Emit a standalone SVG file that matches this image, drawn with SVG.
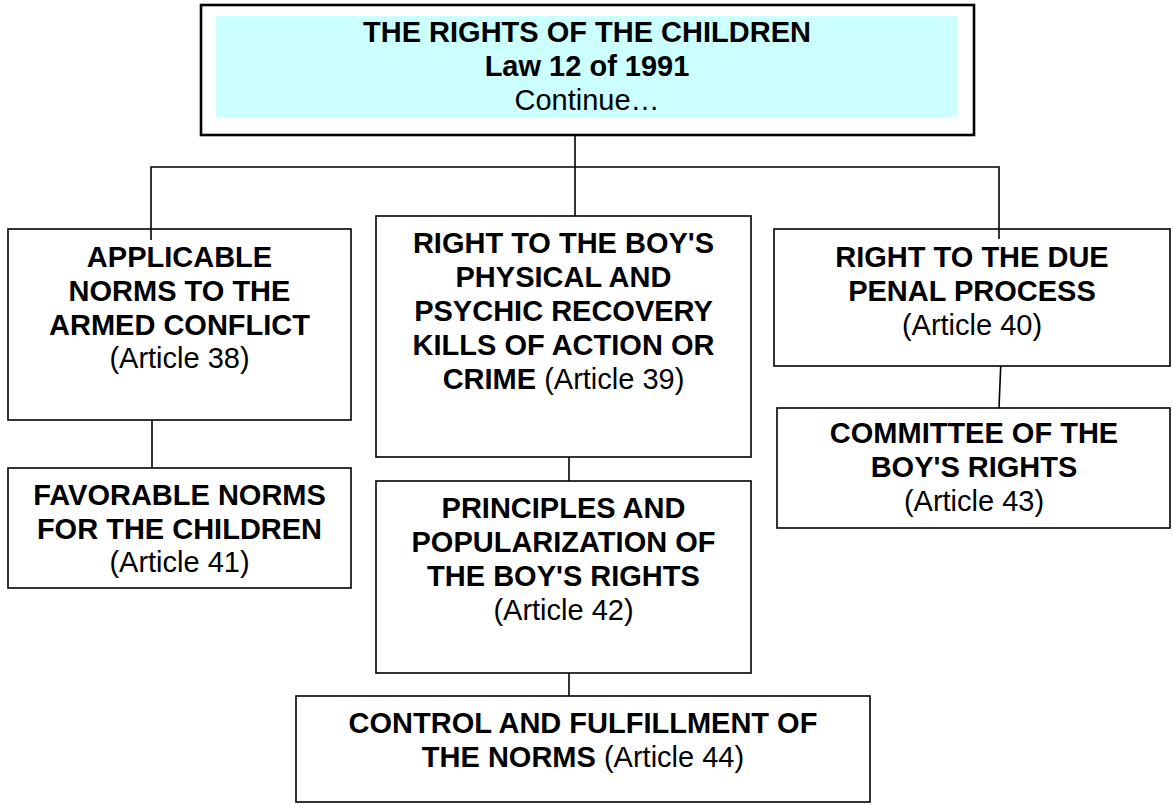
<svg xmlns="http://www.w3.org/2000/svg" width="1173" height="805" viewBox="0 0 1173 805">
<style>
.box{fill:#fff;stroke:#000;stroke-width:1.6}
.c{fill:none;stroke:#000;stroke-width:1.6}
text{font-family:"Liberation Sans",Arial,sans-serif;font-size:29px;text-anchor:middle;fill:#000}
.b{font-weight:bold}
.r{font-weight:normal}
</style>
<rect width="1173" height="805" fill="#fff"/>
<g id="connectors">
<line class="c" x1="575" y1="135" x2="575" y2="216"/>
<polyline class="c" points="151,240 151,167 999,167 999,239"/>
<line class="c" x1="152" y1="420" x2="152" y2="468"/>
<line class="c" x1="569" y1="457" x2="569" y2="481"/>
<line class="c" x1="569" y1="673" x2="569" y2="696"/>
<line class="c" x1="1001" y1="359" x2="999" y2="408"/>
</g>
<g id="top">
<rect x="201" y="5" width="773" height="130" fill="#fff" stroke="#000" stroke-width="2.6"/>
<rect x="216" y="16" width="742" height="101" fill="#CCFFFF"/>
<text x="587" y="42" class="b">THE RIGHTS OF THE CHILDREN</text>
<text x="587" y="76" class="b">Law 12 of 1991</text>
<text x="587" y="110">Continue…</text>
</g>
<g id="art38">
<rect class="box" x="8" y="229" width="343" height="191"/>
<text x="179.5" y="267" class="b">APPLICABLE</text>
<text x="179.5" y="301" class="b">NORMS TO THE</text>
<text x="179.5" y="335" class="b">ARMED CONFLICT</text>
<text x="179.5" y="368">(Article 38)</text>
</g>
<line class="c" x1="151" y1="229" x2="151" y2="240"/>
<g id="art41">
<rect class="box" x="8" y="468" width="343" height="120"/>
<text x="179.5" y="505" class="b">FAVORABLE NORMS</text>
<text x="179.5" y="539" class="b">FOR THE CHILDREN</text>
<text x="179.5" y="572">(Article 41)</text>
</g>
<g id="art39">
<rect class="box" x="376" y="216" width="375" height="241"/>
<text x="563.5" y="253" class="b">RIGHT TO THE BOY'S</text>
<text x="563.5" y="287" class="b">PHYSICAL AND</text>
<text x="563.5" y="321" class="b">PSYCHIC RECOVERY</text>
<text x="563.5" y="355" class="b">KILLS OF ACTION OR</text>
<text x="563.5" y="389"><tspan class="b">CRIME</tspan> (Article 39)</text>
</g>
<g id="art42">
<rect class="box" x="376" y="481" width="375" height="192"/>
<text x="563.5" y="518" class="b">PRINCIPLES AND</text>
<text x="563.5" y="552" class="b">POPULARIZATION OF</text>
<text x="563.5" y="586" class="b">THE BOY'S RIGHTS</text>
<text x="563.5" y="620">(Article 42)</text>
</g>
<g id="art40">
<rect class="box" x="774" y="229" width="396" height="137"/>
<text x="972" y="267" class="b">RIGHT TO THE DUE</text>
<text x="972" y="301" class="b">PENAL PROCESS</text>
<text x="972" y="335">(Article 40)</text>
</g>
<g id="art43">
<rect class="box" x="777" y="408" width="393" height="120"/>
<text x="974" y="443" class="b">COMMITTEE OF THE</text>
<text x="974" y="477" class="b">BOY'S RIGHTS</text>
<text x="974" y="511">(Article 43)</text>
</g>
<g id="art44">
<rect class="box" x="296" y="696" width="574" height="106"/>
<text x="583" y="733" class="b">CONTROL AND FULFILLMENT OF</text>
<text x="583" y="767"><tspan class="b">THE NORMS</tspan> (Article 44)</text>
</g>
<line class="c" x1="999" y1="229" x2="999" y2="239"/>
</svg>
